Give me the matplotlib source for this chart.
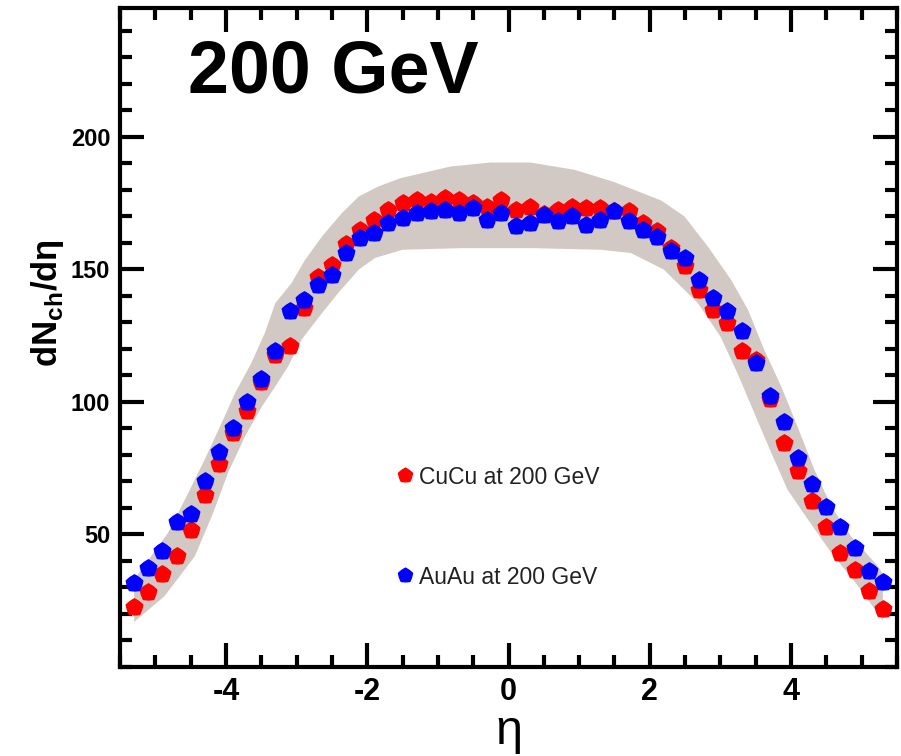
import numpy as np
import matplotlib
matplotlib.use("Agg")
import matplotlib.pyplot as plt
from matplotlib.path import Path
from matplotlib.ticker import MultipleLocator

# pseudorapidity bin centres
eta = [-5.3, -5.1, -4.9, -4.7, -4.5, -4.3, -4.1, -3.9, -3.7, -3.5,
       -3.3, -3.1, -2.9, -2.7, -2.5, -2.3, -2.1, -1.9, -1.7, -1.5,
       -1.3, -1.1, -0.9, -0.7, -0.5, -0.3, -0.1, 0.1, 0.3, 0.5,
       0.7, 0.9, 1.1, 1.3, 1.5, 1.7, 1.9, 2.1, 2.3, 2.5,
       2.7, 2.9, 3.1, 3.3, 3.5, 3.7, 3.9, 4.1, 4.3, 4.5,
       4.7, 4.9, 5.1, 5.3]

cucu = [22.6, 28.4, 35.2, 41.8, 51.5, 64.7, 76.4, 88.3, 96.7, 107.5,
        117.8, 121.0, 135.5, 147.1, 151.8, 159.7, 164.9, 168.7, 172.5, 175.0,
        176.0, 175.6, 177.1, 176.3, 175.0, 173.7, 176.3, 172.5, 173.7, 171.0,
        172.5, 173.7, 173.1, 173.1, 172.0, 171.9, 167.5, 164.3, 158.0, 151.1,
        142.3, 134.8, 129.8, 119.1, 116.0, 101.0, 84.5, 73.8, 62.5, 53.0,
        43.0, 36.5, 28.6, 22.0]

auau = [31.8, 37.2, 43.7, 54.6, 57.9, 70.1, 81.0, 90.2, 99.9, 108.7,
        119.1, 134.2, 138.6, 144.2, 148.0, 156.2, 161.8, 163.7, 167.5, 169.4,
        171.2, 171.9, 172.5, 171.2, 173.1, 168.7, 171.2, 166.2, 167.5, 170.4,
        168.1, 170.0, 166.8, 168.7, 171.9, 168.1, 164.9, 162.4, 156.8, 154.3,
        146.1, 139.2, 134.2, 126.6, 114.7, 102.1, 92.3, 78.9, 69.2, 60.3,
        53.0, 45.0, 36.2, 32.2]

# model band: upper and lower envelopes
eta_up = [-5.3, -4.82, -4.58, -4.3, -4.06, -3.87, -3.64, -3.45, -3.3, -3.07,
          -2.88, -2.64, -2.36, -2.12, -1.84, -1.53, -0.82, -0.26, 0.31, 0.93,
          1.49, 1.73, 2.16, 2.49, 2.82, 3.15, 3.39, 3.62, 3.86, 4.09,
          4.33, 4.57, 4.85, 5.23, 5.3]
band_upper = [33, 50.6, 63.2, 78.3, 92.1, 103.4, 114.7, 126, 137.3, 144.9,
              153.6, 162.4, 171.2, 177.5, 181.3, 184.4, 188.8, 190.3, 190.3, 187.6,
              183.0, 180.5, 176.0, 170.0, 158.7, 146.1, 134.8, 119.7, 105.9, 90.8,
              74.5, 60.6, 49.3, 38.0, 35.0]
eta_lo = [-5.3, -4.87, -4.44, -4.18, -3.97, -3.73, -3.49, -3.3, -3.12, -2.93,
          -2.64, -2.41, -2.12, -1.89, -1.5, -0.68, 0.35, 1.3, 1.73, 2.2,
          2.68, 3.0, 3.24, 3.48, 3.72, 3.95, 4.24, 4.57, 4.95, 5.3]
band_lower = [17, 26.7, 41.8, 58.2, 73.3, 87.0, 98.3, 105.9, 113.4, 123.5,
              133.5, 141.1, 149.9, 154.3, 157.4, 158.0, 158.0, 157.4, 156.2, 149.9,
              137.3, 124.7, 110.9, 95.8, 80.8, 66.9, 55.6, 43.1, 30.5, 17.5]

labels = ["CuCu at 200 GeV", "AuAu at 200 GeV"]
colors = ["#ff0000", "#0000ff"]

plt.rcParams["font.family"] = ["Liberation Sans", "DejaVu Sans"]
plt.rcParams["axes.unicode_minus"] = False

# chunky five-pointed star marker
ang = np.pi / 2 + np.arange(10) * np.pi / 5
rad = np.where(np.arange(10) % 2 == 0, 1.0, 0.86)
verts = np.column_stack([rad * np.cos(ang), rad * np.sin(ang)])
verts = np.vstack([verts, verts[:1]])
star = Path(verts, closed=True)

fig = plt.figure(figsize=(9.01, 7.56), dpi=100)
ax = fig.add_axes([120 / 901, 1 - 667 / 756, 777 / 901, 659 / 756])

band_x = np.concatenate([eta_up, eta_lo[::-1]])
band_y = np.concatenate([band_upper, band_lower[::-1]])
ax.fill(band_x, band_y, color="#d2c9c4", lw=0, zorder=1)

h_cu, = ax.plot(eta, cucu, ls="none", marker=star, ms=12.5, color=colors[0],
                mec=colors[0], zorder=3)
h_au, = ax.plot(eta, auau, ls="none", marker=star, ms=12.5, color=colors[1],
                mec=colors[1], zorder=4)

ax.set_xlim(-5.5, 5.5)
ax.set_ylim(0, 248.6)

ax.xaxis.set_major_locator(MultipleLocator(2))
ax.xaxis.set_minor_locator(MultipleLocator(0.5))
ax.yaxis.set_major_locator(MultipleLocator(50))
ax.yaxis.set_minor_locator(MultipleLocator(10))
ax.set_yticks([50, 100, 150, 200])

for s in ax.spines.values():
    s.set_linewidth(3.0)

ax.tick_params(which="both", direction="in", top=True, right=True, width=3.0)
ax.tick_params(which="major", length=17)
ax.tick_params(which="minor", length=8.5)
ax.tick_params(axis="x", which="major", labelsize=22, pad=7)
ax.tick_params(axis="y", which="major", labelsize=17, pad=7)
for lab in ax.get_xticklabels() + ax.get_yticklabels():
    lab.set_fontweight("bold")

ylab = ax.set_ylabel("dN$_{\\mathregular{ch}}$/dη", fontsize=25, fontweight="bold")
ylab.set_va("baseline")
ax.yaxis.set_label_coords(-0.081, 0.552)
xlab = ax.set_xlabel("η", fontsize=35)
xlab.set_va("baseline")
ax.xaxis.set_label_coords(0.5, -0.1165)

ax.text(0.0875, 0.8725, "200 GeV", transform=ax.transAxes, fontsize=53,
        fontweight="bold", va="baseline", ha="left")

ax.legend([h_cu, h_au], labels, loc="center left",
          bbox_to_anchor=(386 / 901, 1 - 527 / 756), bbox_transform=fig.transFigure,
          frameon=False, fontsize=16.5, handlelength=0.7, handletextpad=0.22,
          labelspacing=3.36, borderpad=0, markerscale=0.85, labelcolor="#222222")

fig.savefig("out.png", dpi=100)
